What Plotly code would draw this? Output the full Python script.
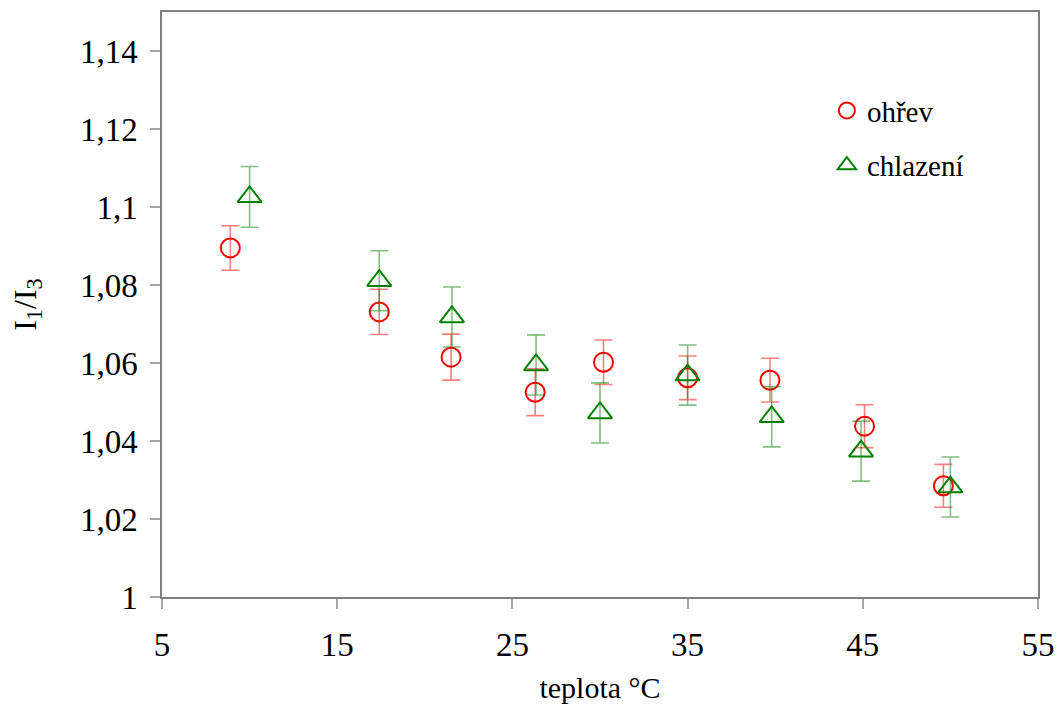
import plotly.graph_objects as go

# Heating series (ohřev)
heat_t = [8.9, 17.4, 21.5, 26.3, 30.2, 35.0, 39.7, 45.1, 49.6]
heat_r = [1.0895, 1.0731, 1.0615, 1.0525, 1.0602, 1.0562, 1.0556, 1.0438, 1.0285]
heat_err = [0.0057, 0.0058, 0.0059, 0.0060, 0.0057, 0.0056, 0.0056, 0.0055, 0.0055]

# Cooling series (chlazení)
cool_t = [10.0, 17.4, 21.55, 26.35, 30.0, 35.0, 39.8, 44.9, 50.0]
cool_r = [1.1026, 1.0811, 1.0718, 1.0595, 1.0472, 1.0569, 1.0462, 1.0374, 1.0282]
cool_err = [0.0078, 0.0077, 0.0077, 0.0077, 0.0077, 0.0077, 0.0077, 0.0077, 0.0077]

x_ticks = [5, 15, 25, 35, 45, 55]
y_ticks = [1.00, 1.02, 1.04, 1.06, 1.08, 1.10, 1.12, 1.14]
y_labels = ["1", "1,02", "1,04", "1,06", "1,08", "1,1", "1,12", "1,14"]

FONT = "Liberation Serif, Times New Roman, serif"

fig = go.Figure()
fig.add_trace(go.Scatter(
    x=heat_t, y=heat_r, mode="markers", name="ohřev", legendgroup="a",
    marker=dict(symbol="circle-open", size=19, color="#ff0000", line=dict(width=2, color="#ff0000")),
    error_y=dict(type="data", array=heat_err, visible=True, color="rgba(255,0,0,0.5)", thickness=1.6, width=9),
))
fig.add_trace(go.Scatter(
    x=cool_t, y=cool_r, mode="markers", name="chlazení", legendgroup="b",
    marker=dict(symbol="triangle-up-open", size=21, color="#008000", line=dict(width=2, color="#008000")),
    error_y=dict(type="data", array=cool_err, visible=True, color="rgba(0,128,0,0.5)", thickness=1.6, width=9),
))

axis_common = dict(
    showline=True, linecolor="#808080", linewidth=1.5, mirror=True,
    ticks="outside", ticklen=10, tickcolor="#a6a6a6", tickwidth=1.5,
    showgrid=False, zeroline=False, automargin=False,
    tickfont=dict(family=FONT, size=33, color="black"),
)

fig.update_layout(
    width=1058, height=715,
    margin=dict(l=162, r=20, t=12, b=118),
    paper_bgcolor="white", plot_bgcolor="white",
    showlegend=True,
    legend=dict(
        x=0.759, y=0.875, xanchor="left", yanchor="top",
        font=dict(family=FONT, size=29, color="black"),
        bgcolor="rgba(0,0,0,0)", tracegroupgap=14, traceorder="grouped",
        itemwidth=30,
    ),
    xaxis=dict(
        range=[5, 55], tickvals=x_ticks, ticktext=[str(v) for v in x_ticks],
        ticklabelstandoff=8,
        title=dict(text="teplota °C", font=dict(family=FONT, size=30, color="black"), standoff=15),
        **axis_common,
    ),
    yaxis=dict(
        range=[1.0, 1.15], tickvals=y_ticks, ticktext=y_labels,
        ticklabelstandoff=6,
        title=dict(text="I<sub>1</sub>/I<sub>3</sub>", font=dict(family=FONT, size=32, color="black"), standoff=34),
        **axis_common,
    ),
)

fig.write_html("out.html")
